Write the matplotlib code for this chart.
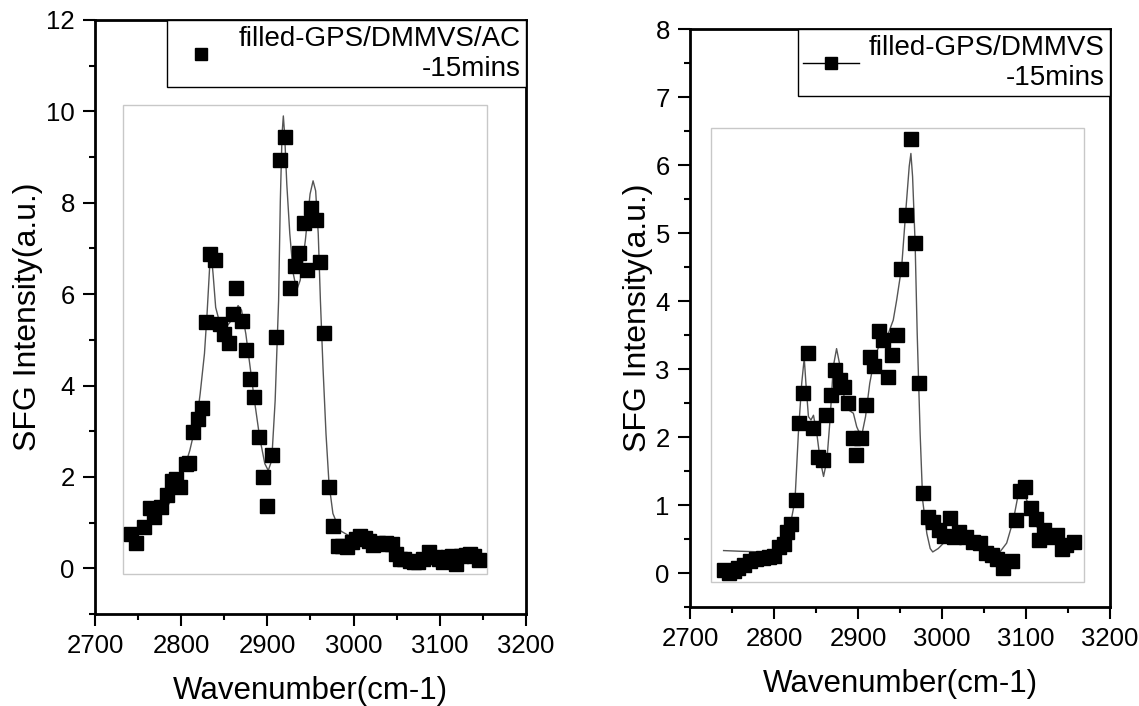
import matplotlib
matplotlib.use("Agg")
import matplotlib.pyplot as plt
from matplotlib.lines import Line2D
from matplotlib.patches import Rectangle
from matplotlib.ticker import MultipleLocator

plt.rcParams['font.family'] = ['Liberation Sans', 'DejaVu Sans']

# left panel : filled-GPS/DMMVS/AC -15mins
x1 = [2742, 2747, 2757, 2764, 2768, 2777, 2783, 2789, 2794, 2799, 2806, 2809, 2814, 2819, 2824,
      2829, 2834, 2839, 2845, 2850, 2855, 2860, 2864, 2870, 2875, 2880, 2885, 2890, 2895, 2900,
      2905, 2910, 2915, 2920, 2926, 2932, 2937, 2942, 2946, 2951, 2956, 2961, 2966, 2971, 2976,
      2982, 2987, 2992, 2998, 3003, 3008, 3013, 3018, 3023, 3028, 3033, 3038, 3044, 3049, 3054,
      3059, 3065, 3070, 3075, 3081, 3088, 3094, 3099, 3104, 3109, 3114, 3119, 3125, 3130, 3135,
      3140, 3145]
y1 = [0.76, 0.55, 0.90, 1.33, 1.12, 1.35, 1.60, 1.92, 1.96, 1.79, 2.29, 2.30, 2.99, 3.27, 3.51,
      5.40, 6.88, 6.75, 5.35, 5.13, 4.93, 5.57, 6.13, 5.42, 4.78, 4.15, 3.76, 2.87, 2.00, 1.36,
      2.47, 5.07, 8.93, 9.43, 6.14, 6.62, 6.90, 7.55, 6.53, 7.88, 7.63, 6.70, 5.15, 1.79, 0.92,
      0.49, 0.48, 0.47, 0.58, 0.65, 0.70, 0.66, 0.60, 0.52, 0.55, 0.54, 0.55, 0.54, 0.32, 0.21,
      0.20, 0.17, 0.13, 0.14, 0.21, 0.36, 0.25, 0.20, 0.14, 0.25, 0.28, 0.10, 0.28, 0.30, 0.32,
      0.28, 0.19]
# fitted curve
fit1_x = [2742, 2760, 2775, 2783, 2790, 2799, 2810, 2818, 2822, 2827, 2830, 2833, 2834.5, 2837, 2840,
          2845, 2852, 2858, 2862, 2866, 2870, 2875, 2880, 2885, 2891, 2897, 2901, 2905, 2909, 2913,
          2915, 2917, 2918.5, 2920, 2922.5, 2926, 2930, 2934, 2938, 2944, 2949.5, 2953, 2956, 2959, 2961.5,
          2964.5, 2968, 2971.5, 2976, 2984, 2994, 3003, 3014, 3026, 3042, 3058, 3073, 3089, 3108, 3127,
          3145]
fit1_y = [0.75, 0.95, 1.20, 1.32, 1.55, 1.92, 2.58, 3.23, 3.82, 4.70, 5.57, 6.59, 6.95, 6.44, 5.71,
          5.35, 5.27, 5.42, 5.58, 5.75, 5.65, 5.13, 4.40, 3.67, 2.87, 2.29, 2.14, 2.36, 3.67, 5.86,
          8.04, 9.50, 9.90, 9.50, 8.41, 7.32, 6.45, 6.09, 6.30, 7.17, 8.19, 8.48, 8.26, 7.32, 5.86,
          4.40, 2.94, 1.85, 1.20, 0.83, 0.72, 0.76, 0.61, 0.54, 0.43, 0.28, 0.25, 0.32, 0.28, 0.28,
          0.25]

# right panel : filled-GPS/DMMVS -15mins
x2 = [2740, 2747, 2752, 2757, 2764, 2771, 2779, 2787, 2794, 2800, 2806, 2812, 2816, 2820, 2826,
      2830, 2835, 2840, 2847, 2852, 2858, 2862, 2868, 2873, 2878, 2883, 2888, 2894, 2898, 2904,
      2909, 2914, 2919, 2925, 2930, 2936, 2941, 2946, 2951, 2957, 2963, 2968, 2973, 2978, 2983,
      2989, 2996, 3002, 3009, 3014, 3020, 3029, 3037, 3045, 3052, 3059, 3065, 3073, 3083, 3088,
      3093, 3099, 3106, 3112, 3116, 3121, 3129, 3137, 3143, 3148, 3157]
y2 = [0.04, 0.00, 0.03, 0.07, 0.12, 0.17, 0.20, 0.22, 0.23, 0.25, 0.38, 0.42, 0.61, 0.72, 1.07,
      2.20, 2.64, 3.23, 2.13, 1.70, 1.66, 2.32, 2.62, 2.99, 2.84, 2.73, 2.50, 1.98, 1.74, 1.98,
      2.47, 3.18, 3.04, 3.56, 3.42, 2.88, 3.21, 3.50, 4.47, 5.26, 6.38, 4.86, 2.80, 1.17, 0.83,
      0.75, 0.63, 0.54, 0.81, 0.53, 0.61, 0.53, 0.46, 0.44, 0.29, 0.26, 0.20, 0.07, 0.17, 0.78,
      1.20, 1.27, 0.95, 0.79, 0.49, 0.63, 0.53, 0.56, 0.35, 0.41, 0.45]
fit2_x = [2740, 2760, 2787, 2800, 2810, 2819, 2825, 2829, 2833, 2836, 2838, 2841, 2844, 2847, 2851,
          2855, 2859, 2863, 2867, 2870.5, 2874.5, 2878, 2882.5, 2888.5, 2894.5, 2898.5, 2904, 2909, 2914, 2920,
          2928, 2936, 2942, 2946, 2952, 2957, 2961, 2963, 2965, 2968, 2970.5, 2974, 2977, 2982, 2986,
          2989, 2995.5, 3003.5, 3013.5, 3021, 3029, 3041, 3053, 3069, 3077, 3085, 3091, 3095, 3101, 3107,
          3113, 3120.5, 3128.5, 3140, 3156]
fit2_y = [0.33, 0.32, 0.31, 0.33, 0.42, 0.68, 1.07, 2.05, 2.79, 3.16, 2.79, 2.30, 2.25, 2.32, 2.05,
          1.66, 1.42, 1.66, 2.30, 3.03, 3.30, 3.08, 2.64, 2.40, 2.35, 2.15, 2.00, 2.30, 2.79, 3.18,
          3.43, 3.52, 3.72, 4.01, 4.50, 5.34, 5.98, 6.17, 5.83, 4.86, 3.52, 2.05, 1.07, 0.58, 0.36,
          0.31, 0.36, 0.46, 0.58, 0.66, 0.58, 0.44, 0.34, 0.31, 0.44, 0.78, 1.17, 1.25, 1.07, 0.83,
          0.68, 0.58, 0.56, 0.50, 0.48]

labels = ["filled-GPS/DMMVS/AC\n-15mins", "filled-GPS/DMMVS\n-15mins"]


def panel(ax, x, y, fx, fy, ylim, ymaj, ymin, inner, label, with_line):
    ax.plot(fx, fy, color="#555555", lw=1.0, zorder=2)
    ax.plot(x, y, ls="none", marker="s", ms=9.5, color="black", zorder=3)
    ax.set_xlim(2700, 3200)
    ax.set_ylim(*ylim)
    ax.xaxis.set_major_locator(MultipleLocator(100))
    ax.xaxis.set_minor_locator(MultipleLocator(50))
    ax.yaxis.set_major_locator(MultipleLocator(ymaj))
    ax.yaxis.set_minor_locator(MultipleLocator(ymin))
    ax.tick_params(which="both", direction="out", top=False, right=False, width=1.5, labelsize=18.5)
    ax.tick_params(which="major", length=8.5, pad=6)
    ax.tick_params(which="minor", length=4.5)
    for s in ax.spines.values():
        s.set_linewidth(2)
    ax.set_xlabel("Wavenumber(cm-1)", fontsize=22.5, labelpad=13)
    ax.set_ylabel("SFG Intensity(a.u.)", fontsize=23, labelpad=2)
    # grey frame of the plot layer
    ax.add_patch(Rectangle((inner[0], inner[1]), inner[2] - inner[0], inner[3] - inner[1],
                           transform=ax.transAxes, fill=False, ec="#c8c8c8", lw=1, zorder=1))
    if with_line:
        h = Line2D([], [], color="black", lw=1, marker="s", ms=9)
    else:
        h = Line2D([], [], ls="none", color="black", marker="s", ms=9)
    leg = ax.legend([h], [label], loc="upper right", bbox_to_anchor=(1, 1), borderaxespad=0,
                    fontsize=20, fancybox=False, framealpha=1, edgecolor="black",
                    borderpad=0.2, handlelength=2.0, handletextpad=0.35)
    leg.get_frame().set_linewidth(1)
    leg.get_texts()[0].set_multialignment("right")


fig = plt.figure(figsize=(11.39, 7.06), dpi=100)
ax1 = fig.add_axes([0.0834, 0.1303, 0.3784, 0.8414])
ax2 = fig.add_axes([0.6058, 0.1402, 0.3687, 0.8187])

panel(ax1, x1, y1, fit1_x, fit1_y, (-1, 12), 2, 1, (0.065, 0.067, 0.9095, 0.857), labels[0], False)
panel(ax2, x2, y2, fit2_x, fit2_y, (-0.5, 8), 1, 0.5, (0.05, 0.043, 0.938, 0.829), labels[1], True)

fig.savefig("out.png", dpi=100)
